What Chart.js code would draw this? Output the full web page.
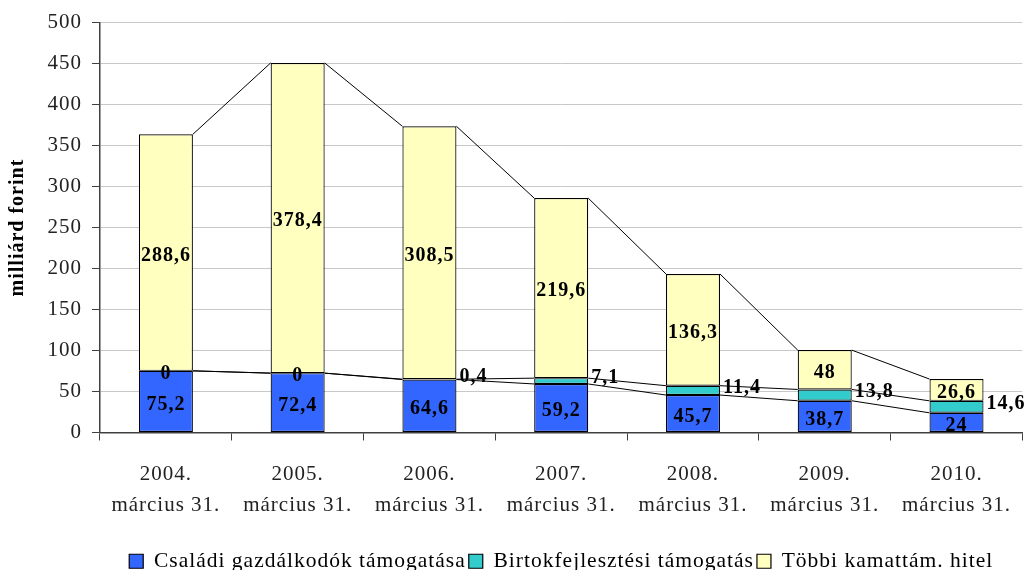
<!DOCTYPE html>
<html>
<head>
<meta charset="utf-8">
<title>Kamattámogatott hitelek</title>
<script src="https://cdn.jsdelivr.net/npm/chart.js@4"></script>
<style>
    html, body { margin: 0; padding: 0; background: #fff; }
    #wrap { width: 1029px; height: 570px; }
</style>
</head>
<body>
<div id="wrap"><canvas id="myChart" width="1029" height="570"></canvas></div>
<script>
// adatok
var years = ["2004.", "2005.", "2006.", "2007.", "2008.", "2009.", "2010."];
var csaladi = [75.2, 72.4, 64.6, 59.2, 45.7, 38.7, 24];
var birtok = [0, 0, 0.4, 7.1, 11.4, 13.8, 14.6];
var tobbi = [288.6, 378.4, 308.5, 219.6, 136.3, 48, 26.6];
var yTicks = [0, 50, 100, 150, 200, 250, 300, 350, 400, 450, 500];

var serif = "'Liberation Serif', 'Times New Roman', serif";

function fmt(v) {
    return String(v).replace(".", ",");
}

// the original font is wider, so spread the letters a bit
var spacing = {
    id: 'spacing',
    beforeLayout: function (chart) { chart.ctx.letterSpacing = '1px'; },
    beforeDraw: function (chart) { chart.ctx.letterSpacing = '1px'; },
    afterLayout: function (chart) {
        // legend sits centered under the plot area, not the whole canvas
        var ca = chart.chartArea;
        var shift = (ca.left + ca.right) / 2 - chart.width / 2;
        chart.legend.left += shift;
        chart.legend.right += shift;
    }
};

// Excel-style series lines between the stacked bars
var seriesLines = {
    id: 'seriesLines',
    beforeDatasetsDraw: function (chart) {
        var ctx = chart.ctx;
        ctx.save();
        ctx.strokeStyle = '#000';
        ctx.lineWidth = 1;
        for (let d = 0; d < chart.data.datasets.length; d++) {
            var meta = chart.getDatasetMeta(d);
            for (let i = 0; i < meta.data.length - 1; i++) {
                var a = meta.data[i];
                var b = meta.data[i + 1];
                ctx.beginPath();
                ctx.moveTo(a.x + a.width / 2, a.y);
                ctx.lineTo(b.x - b.width / 2, b.y);
                ctx.stroke();
            }
        }
        ctx.restore();
    }
};

// value labels
var valueLabels = {
    id: 'valueLabels',
    afterDatasetsDraw: function (chart) {
        var ctx = chart.ctx;
        ctx.save();
        ctx.font = "bold 20px " + serif;
        ctx.fillStyle = '#000';
        ctx.textBaseline = 'middle';
        for (let d = 0; d < chart.data.datasets.length; d++) {
            var meta = chart.getDatasetMeta(d);
            var vals = chart.data.datasets[d].data;
            for (let i = 0; i < meta.data.length; i++) {
                var bar = meta.data[i];
                var mid = (bar.y + bar.base) / 2;
                if (d === 1 && vals[i] !== 0) {
                    // small segment: label goes right of the bar
                    ctx.textAlign = 'left';
                    ctx.fillText(fmt(vals[i]), bar.x + bar.width / 2 + 3, mid - 3);
                } else {
                    ctx.textAlign = 'center';
                    ctx.fillText(fmt(vals[i]), bar.x, mid + 3);
                }
            }
        }
        ctx.restore();
    }
};

var ctx = document.getElementById('myChart').getContext('2d');
var chart = new Chart(ctx, {
    type: 'bar',
    data: {
        labels: years.map(y => [y, "március 31."]),
        datasets: [{
            label: "Családi gazdálkodók támogatása",
            data: csaladi,
            backgroundColor: '#3366ff',
            borderColor: '#000',
            borderWidth: 1.2,
            borderSkipped: false
        }, {
            label: "Birtokfejlesztési támogatás",
            data: birtok,
            backgroundColor: '#33cccc',
            borderColor: '#000',
            borderWidth: 1.2,
            borderSkipped: false
        }, {
            label: "Többi kamattám. hitel",
            data: tobbi,
            backgroundColor: '#ffffc0',
            borderColor: '#000',
            borderWidth: 1.2,
            borderSkipped: false
        }]
    },
    options: {
        responsive: false,
        animation: false,
        devicePixelRatio: 1,
        layout: { padding: { top: 14, right: 0, left: 0, bottom: -12 } },
        datasets: {
            bar: { categoryPercentage: 1, barPercentage: 0.41 }
        },
        plugins: {
            tooltip: { enabled: false },
            legend: {
                position: 'bottom',
                labels: {
                    font: { family: serif, size: 21.5 },
                    color: '#000',
                    boxWidth: 14,
                    boxHeight: 14,
                    padding: 3
                }
            }
        },
        scales: {
            x: {
                stacked: true,
                grid: {
                    display: true,
                    drawOnChartArea: false,
                    offset: true,
                    tickLength: 8,
                    color: '#404040'
                },
                border: { color: '#404040', width: 1.5 },
                ticks: {
                    font: { family: serif, size: 21, lineHeight: 1.5 },
                    color: '#222',
                    padding: 18,
                    maxRotation: 0
                },
                afterFit: function (scale) { scale.height = 115; }
            },
            y: {
                stacked: true,
                min: 0,
                max: 500,
                afterBuildTicks: function (scale) {
                    scale.ticks = yTicks.map(v => ({ value: v }));
                },
                grid: {
                    color: '#c8c8c8',
                    tickColor: '#404040',
                    tickLength: 8
                },
                border: { color: '#404040', width: 1.5 },
                ticks: {
                    font: { family: serif, size: 21 },
                    color: '#222',
                    padding: 10
                },
                title: {
                    display: true,
                    text: "milliárd forint",
                    font: { family: serif, size: 20, weight: 'bold' },
                    color: '#000',
                    padding: { top: 6, bottom: 0 }
                },
                afterFit: function (scale) { scale.width = 100; }
            }
        }
    },
    plugins: [spacing, seriesLines, valueLabels]
});
</script>
</body>
</html>
